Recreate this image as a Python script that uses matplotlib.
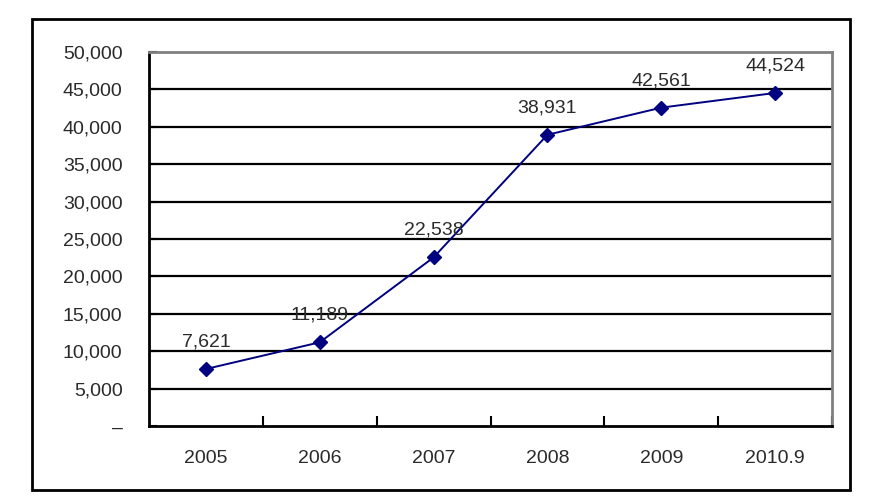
import matplotlib.pyplot as plt
from matplotlib.patches import Rectangle

years = ["2005", "2006", "2007", "2008", "2009", "2010.9"]
values = [7621, 11189, 22538, 38931, 42561, 44524]
y_ticks = [0, 5000, 10000, 15000, 20000, 25000, 30000, 35000, 40000, 45000, 50000]

plt.rcParams['font.family'] = ['Liberation Sans', 'DejaVu Sans']

fig = plt.figure(figsize=(8.83, 5.04), dpi=100)
ax = fig.add_axes([149 / 883, 1 - 426 / 504, (832 - 149) / 883, (426 - 52) / 504])

# outer frame
fig.patches.append(Rectangle((32 / 883, 1 - 490 / 504), (850 - 32) / 883, (490 - 19) / 504,
                             transform=fig.transFigure, fill=False, edgecolor="black",
                             linewidth=2))

x = list(range(len(years)))
ax.plot(x, values, color="#000080", linewidth=1.4, marker="D", markersize=7,
        markerfacecolor="#000080", markeredgecolor="#000080", zorder=3)

for xi, v in zip(x, values):
    ax.annotate(f"{v:,}", (xi, v), xytext=(0, 27), textcoords="offset pixels",
                ha="center", va="center", fontsize=14, color="#2a2a2a")

ax.set_xlim(-0.5, len(years) - 0.5)
ax.set_ylim(0, 50000)

for t in y_ticks[1:-1]:
    ax.axhline(t, color="black", linewidth=1.6, zorder=1)

ax.set_yticks(y_ticks)
ax.set_yticklabels(["–" if t == 0 else f"{t:,}" for t in y_ticks], fontsize=14, color="#2a2a2a")
ax.tick_params(axis="y", direction="in", length=6, width=1.5, pad=19)

ax.set_xticks(x)
ax.set_xticklabels(years, fontsize=14, color="#2a2a2a")
ax.tick_params(axis="x", which="major", length=0, pad=17)
ax.set_xticks([i + 0.5 for i in x], minor=True)
ax.tick_params(axis="x", which="minor", direction="in", length=7, width=1.5)

ax.spines["left"].set_linewidth(2)
ax.spines["bottom"].set_linewidth(2)
ax.spines["top"].set_color("#808080")
ax.spines["right"].set_color("#808080")
ax.spines["top"].set_linewidth(2)
ax.spines["right"].set_linewidth(2)

fig.savefig("out.png", dpi=100)
